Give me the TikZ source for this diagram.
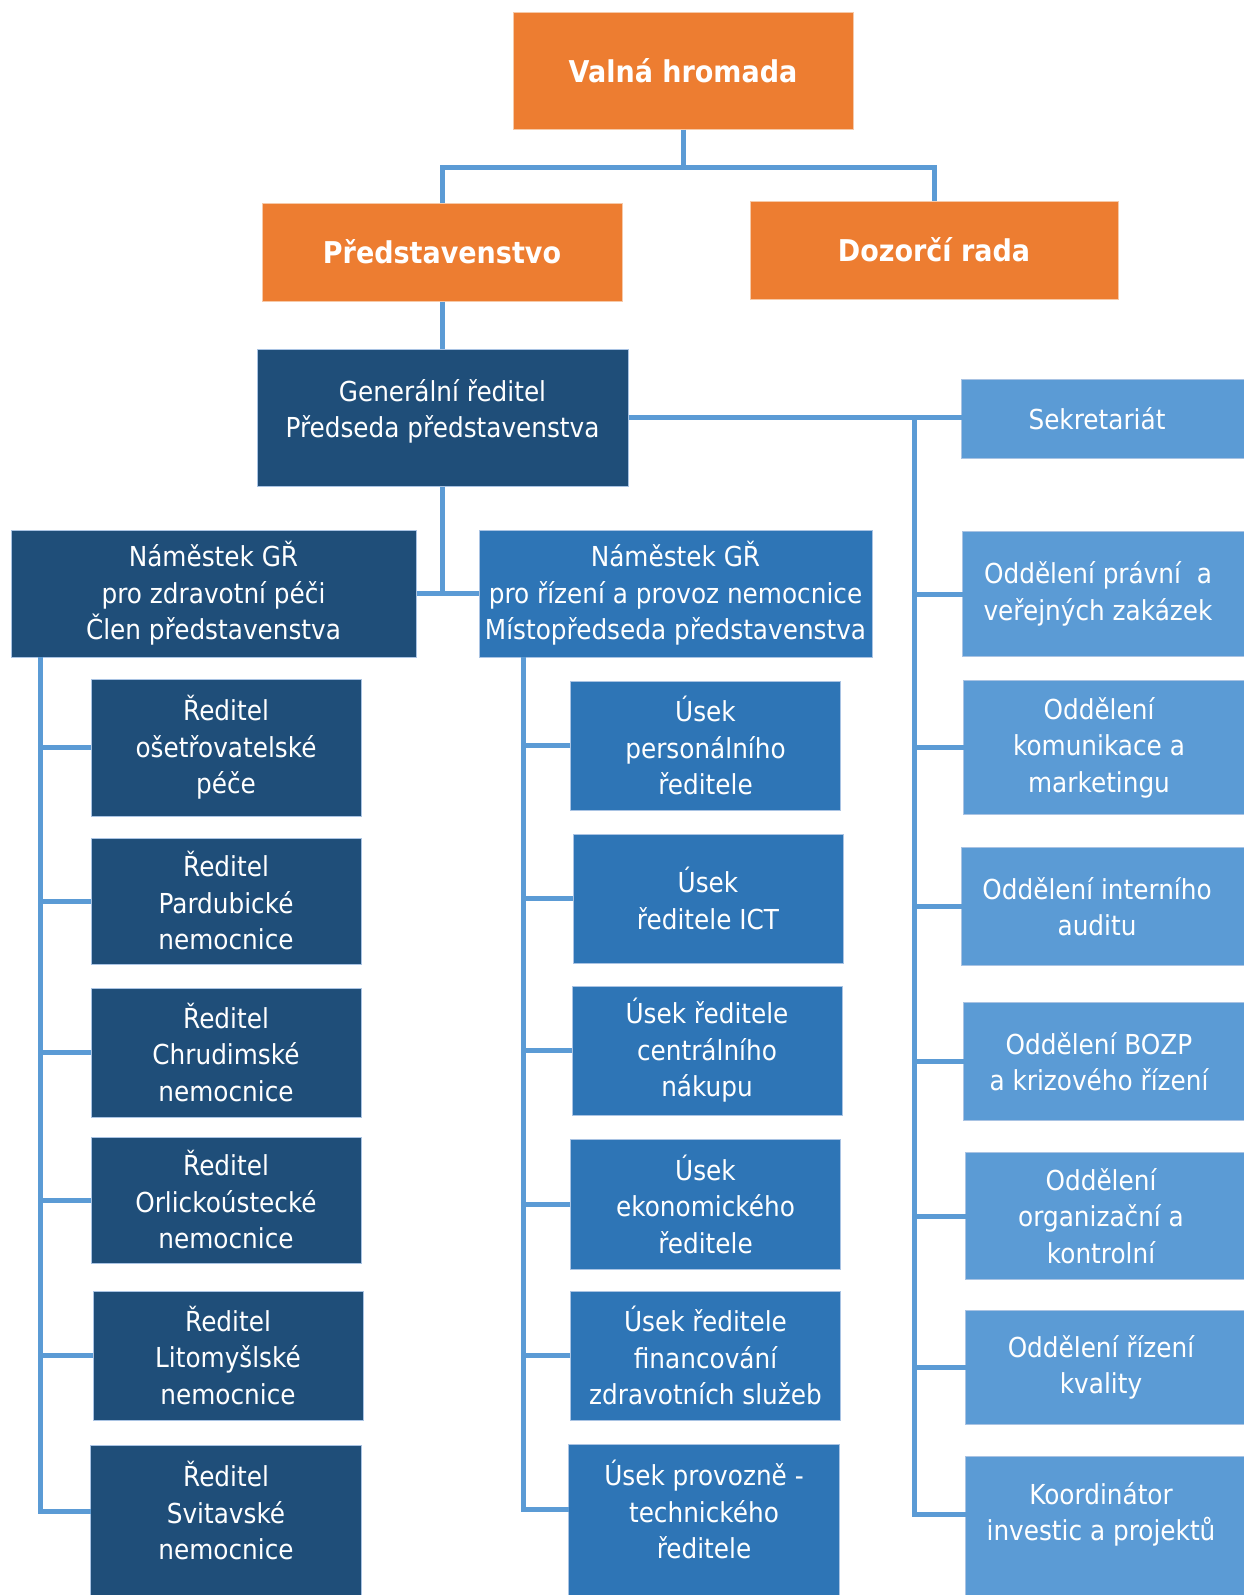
\documentclass[tikz,border=0pt]{standalone}
\usepackage{fontspec}
\setmainfont{DejaVu Sans}[FakeStretch=0.9]
\usetikzlibrary{backgrounds}
\definecolor{orng}{HTML}{ED7D31}
\definecolor{orngb}{HTML}{F6C9A8}
\definecolor{navy}{HTML}{1F4E79}
\definecolor{mblue}{HTML}{2E75B6}
\definecolor{lblue}{HTML}{5B9BD5}
\definecolor{bbord}{HTML}{A9C3E3}
\definecolor{conn}{HTML}{5B9BD5}
\tikzset{
  base/.style={rectangle, inner sep=0pt, align=center, text=white,
    font=\fontsize{27.5}{36.5}\selectfont, line width=1pt},
  topbox/.style={base, fill=orng, draw=orngb, font=\fontsize{30}{36}\selectfont\bfseries},
  navybox/.style={base, fill=navy, draw=bbord},
  midbox/.style={base, fill=mblue, draw=bbord},
  ltbox/.style={base, fill=lblue, draw=bbord},
  extbox/.style={fill=none, draw=none},
  link/.style={draw=conn, line width=5pt}
}
\begin{document}
\begin{tikzpicture}[x=1pt,y=-1pt]
\useasboundingbox (0,0) rectangle (1243,1595);
\clip (0,0) rectangle (1243,1595);

\coordinate (topbar) at (683,167);
\coordinate (rtop) at (914,418);
\coordinate (ltop) at (40,657);
\coordinate (mtop) at (523,657);

% top level
\node[topbox, minimum width=340, minimum height=116] (vh) at (683,71) {Valná hromada};
\node[topbox, minimum width=360, minimum height=98] (pr) at (442,252) {Představenstvo};
\node[topbox, minimum width=368, minimum height=98] (dr) at (934,250) {Dozorčí rada};

\node[navybox, minimum width=371, minimum height=137] (gr) at (442.5,417.5) {Generální ředitel\\Předseda představenstva\\[-18pt]~};
\node[ltbox, extbox, minimum width=270, minimum height=78] (sek) at (1097,419) {Sekretariát};

\node[navybox, minimum width=405, minimum height=127] (n1) at (213.5,593.5) {Náměstek GŘ\\pro zdravotní péči\\Člen představenstva};
\node[midbox, minimum width=393, minimum height=127] (n2) at (675.5,593.5) {Náměstek GŘ\\pro řízení a provoz nemocnice\\Místopředseda představenstva};

% left column
\node[navybox, minimum width=270, minimum height=137] (l1) at (226,747.5) {Ředitel\\ošetřovatelské\\péče};
\node[navybox, minimum width=270, minimum height=126] (l2) at (226,901) {Ředitel\\Pardubické\\nemocnice};
\node[navybox, minimum width=270, minimum height=129] (l3) at (226,1052.5) {Ředitel\\Chrudimské\\nemocnice};
\node[navybox, minimum width=270, minimum height=126] (l4) at (226,1200) {Ředitel\\Orlickoústecké\\nemocnice};
\node[navybox, minimum width=270, minimum height=129] (l5) at (228,1355.5) {Ředitel\\Litomyšlské\\nemocnice};
\node[navybox, extbox, minimum width=270, minimum height=130] (l6) at (226,1511) {Ředitel\\Svitavské\\nemocnice};

% middle column
\node[midbox, minimum width=270, minimum height=129] (m1) at (705.5,745.5) {Úsek\\personálního\\ředitele};
\node[midbox, minimum width=270, minimum height=129] (m2) at (708,898.5) {Úsek\\ředitele ICT};
\node[midbox, minimum width=270, minimum height=129] (m3) at (707,1050.5) {Úsek ředitele\\centrálního\\nákupu};
\node[midbox, minimum width=270, minimum height=130] (m4) at (705.5,1204) {Úsek\\ekonomického\\ředitele};
\node[midbox, minimum width=270, minimum height=129] (m5) at (705.5,1355.5) {Úsek ředitele\\financování\\zdravotních služeb};
\node[midbox, extbox, minimum width=270, minimum height=130] (m6) at (704,1509.5) {Úsek provozně -\\technického\\ředitele};

% right column
\node[ltbox, extbox, minimum width=270, minimum height=124] (r1) at (1098,594) {Oddělení právní~ a\\veřejných zakázek};
\node[ltbox, extbox, minimum width=270, minimum height=133] (r2) at (1099,747.5) {Oddělení\\komunikace a\\marketingu};
\node[ltbox, extbox, minimum width=270, minimum height=117] (r3) at (1097,906.5) {Oddělení interního\\auditu};
\node[ltbox, extbox, minimum width=270, minimum height=117] (r4) at (1099,1061.5) {Oddělení BOZP\\a krizového řízení};
\node[ltbox, extbox, minimum width=270, minimum height=126] (r5) at (1101,1216) {Oddělení\\organizační a\\kontrolní};
\node[ltbox, extbox, minimum width=270, minimum height=113] (r6) at (1101,1367.5) {Oddělení řízení\\kvality};
\node[ltbox, extbox, minimum width=270, minimum height=115] (r7) at (1101,1514.5) {Koordinátor\\investic a projektů};

% boxes that run past the page edge
\begin{scope}[on background layer]
  \fill[white] (0,0) rectangle (1243,1595);
  \foreach \n in {sek,r1,r2,r3,r4,r5,r6}
    \filldraw[fill=lblue, draw=bbord, line width=1pt] (\n.north west) rectangle ([xshift=40pt]\n.south east);
  \filldraw[fill=lblue, draw=bbord, line width=1pt] (r7.north west) rectangle ([xshift=40pt,yshift=-60pt]r7.south east);
  \filldraw[fill=navy, draw=bbord, line width=1pt] (l6.north west) rectangle ([yshift=-60pt]l6.south east);
  \filldraw[fill=mblue, draw=bbord, line width=1pt] (m6.north west) rectangle ([yshift=-60pt]m6.south east);
\end{scope}

% connectors
\draw[link] (vh.south) -- (topbar);
\draw[link] (pr.north) |- (topbar) -| (dr.north);
\draw[link] (pr.south) -- (pr.south |- gr.north);
\draw[link] (gr.east) -- (gr.east -| sek.west);
\draw[link] (gr.south) -- (gr.south |- n1.east);
\draw[link] (n1.east) -- (n2.west);

\draw[link] (ltop) |- (l6.west);
\foreach \n in {l1,l2,l3,l4,l5}
  \draw[link] (\n.west) -- (\n.west -| ltop);

\draw[link] (mtop) |- (m6.west);
\foreach \n in {m1,m2,m3,m4,m5}
  \draw[link] (\n.west) -- (\n.west -| mtop);

\draw[link] (rtop) |- (r7.west);
\foreach \n in {r1,r2,r3,r4,r5,r6}
  \draw[link] (\n.west) -- (\n.west -| rtop);
\end{tikzpicture}
\end{document}
